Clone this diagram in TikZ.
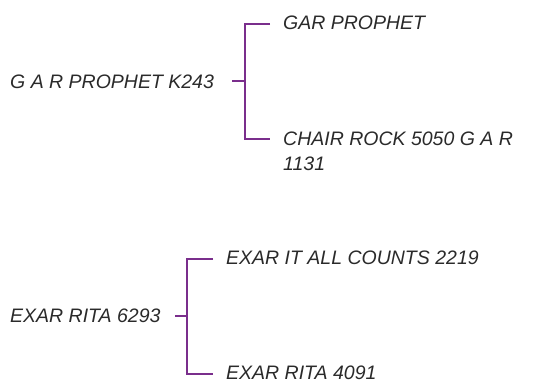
\documentclass[tikz,border=0pt]{standalone}
\usepackage{fontspec}
\setmainfont{Liberation Sans}
\definecolor{brk}{HTML}{7A2E8C}
\definecolor{txt}{HTML}{2A2A2A}
\tikzset{
  lbl/.style={inner sep=0pt, anchor=west, text=txt, font=\fontsize{19.5}{24.5}\selectfont\itshape},
  brace/.style={draw=brk, line width=2pt},
}
\begin{document}
\begin{tikzpicture}[x=1pt,y=-1pt]
\useasboundingbox (0,0) rectangle (533,383);
% top group
\node[lbl] (r1) at (10,82) {G A R PROPHET K243};
\node[lbl] (c1) at (283,23) {GAR PROPHET};
\node[lbl, anchor=north west, align=left] (c2) at (283,132) {CHAIR ROCK 5050 G A R\\1131};
\coordinate (s1) at (232,81);
\coordinate (j1) at (245,81);
\coordinate (a1) at (270,24);
\coordinate (a2) at (270,139);
\draw[brace] (s1) -- (j1);
\draw[brace] (a1) -| (j1) |- (a2);
% bottom group
\node[lbl] (r2) at (10,316) {EXAR RITA 6293};
\node[lbl] (c3) at (226,258) {EXAR IT ALL COUNTS 2219};
\node[lbl] (c4) at (226,372.5) {EXAR RITA 4091};
\coordinate (s2) at (175,316);
\coordinate (j2) at (187,316);
\coordinate (a3) at (213,259);
\coordinate (a4) at (213,374);
\draw[brace] (s2) -- (j2);
\draw[brace] (a3) -| (j2) |- (a4);
\end{tikzpicture}
\end{document}
